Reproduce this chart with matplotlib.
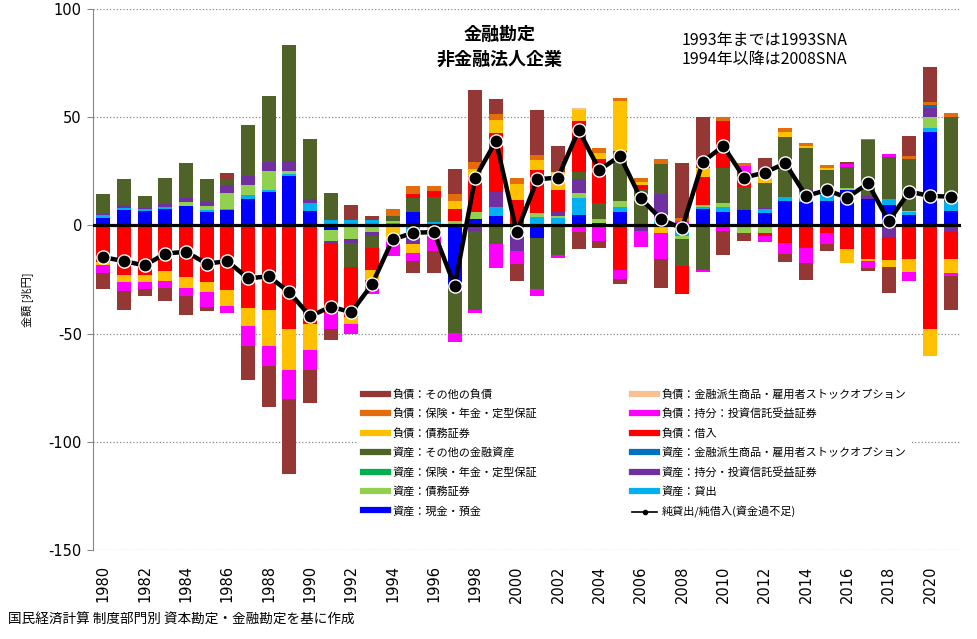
import matplotlib
matplotlib.use("Agg")
import matplotlib.pyplot as plt
from matplotlib.lines import Line2D
import numpy as np

plt.rcParams["font.family"] = ["Noto Sans CJK JP", "DejaVu Sans"]
plt.rcParams["axes.unicode_minus"] = False

years = list(range(1980, 2022))

# 資産 (assets)
a_cash = [3.2, 7.1, 6.5, 7.4, 8.9, 6.2, 7.3, 12.0, 15.4, 22.8,
          6.5, -2.0, 0, 0, 0, 6.0, 0, -28.0, 3.0, 4.2,
          0, -6.0, 0, 4.6, 1.0, 6.1, 0, 0, 0, 7.4,
          6.3, 7.1, 5.6, 11.3, 10.8, 11.3, 16.2, 12.0, 9.3, 4.6,
          43.2, 6.6]
a_loan = [1.4, 0.9, 1.2, 1.3, 0, 0.7, 0.5, 2.0, 0.9, 0.8,
          3.7, 2.5, 2.5, 2.6, 1.0, -5.7, 1.5, 0, 0, 4.5,
          0, 4.0, 3.5, 7.9, 0, 2.5, 0, 2.5, -4.9, 1.2,
          2.4, 0, 1.8, 1.8, 4.6, 3.4, 0, 0, 2.7, 1.4,
          2.0, 4.2]
a_bond = [0, 0, 0, 0, 1.7, 2.0, 7.0, 4.5, 8.7, 1.7,
          0, -5.2, -6.5, -3.1, 1.0, 0, 0, 2.0, 3.3, 0,
          -4.2, 1.9, 1.0, 2.6, 1.8, 2.6, -0.8, 0, -1.6, 0.8,
          1.8, -3.7, -3.4, 0, 0, 0, 0.9, 0, 0, 0.5,
          4.7, 0]
a_equity = [0.8, 1.4, 0.4, 1.0, 1.9, 1.9, 3.9, 4.3, 4.3, 4.3,
            1.8, -1.1, -1.8, -1.9, 0, -3.1, 0, 0, -2.6, 6.9,
            -7.7, 0, 1.8, 6.2, 0, 0, -1.7, 12.2, 0, 0,
            0, 0, 0.8, 0, 1.3, 0, 0, 1.6, -5.2, 0,
            4.3, -3.1]
a_ins = [0] * 42
a_deriv = [0, 0, 0, 0, 0, 0, 0, 0, 0, 0,
           0, 0, 0, 0, 0, 0.6, 0, 0, 0, 0,
           0, 0, 0, 0, 0, 0.3, 0, 0, 0, 0,
           0, 0, 0, 0, 0, 0, 0, 0, 0, 0,
           1.4, 0]
a_other = [9.0, 11.9, 5.3, 12.1, 16.2, 10.5, 2.1, 23.5, 30.4, 53.7,
           27.8, 12.3, -10.8, -5.3, 2.3, 6.2, 11.6, -21.7, -36.3, -8.8,
           0, -23.6, -13.9, 3.5, 7.4, 22.7, 16.7, 13.8, -12.3, -20.4,
           16.2, 10.8, 11.2, 27.8, 18.9, 10.8, 9.9, 25.8, 19.8, 24.1,
           0, 39.5]

# 負債 (liabilities, sign reversed)
l_borrow = [-17.0, -22.7, -22.7, -21.1, -23.9, -26.2, -29.9, -38.4, -39.2, -47.7,
            -45.4, -32.1, -23.2, -10.1, 0, 1.6, 2.8, 5.4, 16.5, 27.3,
            11.7, 19.6, 10.0, 23.5, 20.4, -20.4, 1.8, 0, -12.7, 13.0,
            21.6, 6.5, -1.5, -8.3, -10.3, -3.4, -11.1, -15.4, -10.8, -15.7,
            -47.8, -12.6]
l_bond = [-1.5, -3.5, -3.5, -4.4, -4.9, -4.6, -7.4, -8.2, -16.4, -19.0,
          -12.0, 0, -3.4, -4.6, -6.5, -3.9, -5.0, 3.9, 3.4, 5.9,
          7.3, 4.6, 8.5, 5.1, 2.7, 23.2, 1.5, -3.4, 0, 4.3,
          0, 0, 3.4, 2.3, 1.1, 0.9, -6.5, -1.1, -3.3, -5.9,
          -12.4, -6.5]
l_equity = [-3.4, -4.2, -3.4, -3.3, -3.6, -7.0, -3.4, -9.0, -9.5, -13.4,
            -9.3, -7.7, -4.6, -6.5, -7.7, -3.8, -6.9, -4.3, -1.5, -10.8,
            -6.1, -2.8, -1.2, -3.0, -7.2, -4.3, -7.5, -12.3, 2.0, -1.1,
            -2.6, 3.1, -2.8, -4.7, -7.3, -5.4, 1.6, -3.1, 1.1, -4.2,
            0, -1.3]
l_ins = [0, 0, 0, 0, 0, 0, 0, 0, 0, 0,
         0, 0, 0, 0, 3.1, 3.8, 2.3, 3.1, 3.3, 2.9,
         3.1, 2.3, 0, 0, 2.3, 1.7, 1.8, 2.4, 1.6, 0,
         2.0, 1.5, 0, 1.7, 1.3, 1.5, 0, 0.7, 0, 1.5,
         1.2, 1.6]
l_deriv = [0, 0, 0, 0, 0, 0, 0, 0, 0, 0,
           0, 0, 0, 0, 0, 0, 0, 0, 0, 0,
           0, 0, 0, 0.9, 0, 0, 0, 0, 0, 0,
           0, 0, 0, 0, 0, 0, 0, 0, 0, 0,
           0, 0]
l_other = [-7.7, -8.5, -2.8, -6.2, -8.8, -1.9, 3.2, -15.7, -19.0, -34.7,
           -15.4, -5.0, 6.8, 1.6, 0, -5.4, -10.0, 11.5, 33.1, 6.6,
           -7.8, 21.0, 11.9, -8.1, -3.1, -2.6, 0, -13.1, 25.4, 23.6,
           -11.1, -3.5, 8.5, -4.0, -7.4, -3.1, 0.9, -1.5, -11.9, 9.3,
           16.2, -15.7]

net_lending = [-14.7, -16.5, -18.5, -13.0, -12.2, -17.7, -16.5, -24.5, -23.5, -30.9,
               -42.0, -37.6, -40.1, -27.3, -6.5, -3.4, -3.1, -28.0, 22.1, 39.0,
               -3.1, 21.3, 22.1, 44.1, 25.6, 32.1, 12.5, 2.8, -1.4, 29.3,
               36.7, 22.1, 24.4, 28.7, 13.6, 16.3, 12.8, 19.4, 2.0, 15.6,
               13.6, 13.3]

# stacking order (bottom to top)
stack = [
    ("資産：現金・預金", a_cash, "#0000FF"),
    ("資産：貸出", a_loan, "#00B0F0"),
    ("資産：債務証券", a_bond, "#92D050"),
    ("資産：持分・投資信託受益証券", a_equity, "#7030A0"),
    ("資産：保険・年金・定型保証", a_ins, "#00B050"),
    ("資産：金融派生商品・雇用者ストックオプション", a_deriv, "#0070C0"),
    ("資産：その他の金融資産", a_other, "#4F6228"),
    ("負債：借入", l_borrow, "#FF0000"),
    ("負債：債務証券", l_bond, "#FFC000"),
    ("負債：持分：投資信託受益証券", l_equity, "#FF00FF"),
    ("負債：保険・年金・定型保証", l_ins, "#E46C0A"),
    ("負債：金融派生商品・雇用者ストックオプション", l_deriv, "#FAC090"),
    ("負債：その他の負債", l_other, "#953735"),
]
colors = {name: c for name, _, c in stack}

fig = plt.figure(figsize=(9.77, 6.39), dpi=100)
ax = fig.add_axes([93 / 977, 89 / 639, 868 / 977, 541 / 639])

pos = np.zeros(len(years))
neg = np.zeros(len(years))
for name, vals, color in stack:
    v = np.array(vals, dtype=float)
    bottom = np.where(v >= 0, pos, neg)
    ax.bar(years, v, 0.68, bottom=bottom, color=color, linewidth=0, zorder=2)
    pos += np.clip(v, 0, None)
    neg += np.clip(v, None, 0)

ax.axhline(0, color="black", lw=2.3, zorder=3)
ax.plot(years, net_lending, color="black", lw=3.2, marker="o", ms=9.5,
        mfc="black", mec="white", mew=1.0, zorder=4)

ax.set_xlim(1979.5, 2021.5)
ax.set_ylim(-150, 100)
ax.set_yticks([-150, -100, -50, 0, 50, 100])
ax.set_xticks(years[::2])
ax.set_xticklabels([str(y) for y in years[::2]], rotation=90, fontsize=10.5,
                   family=["DejaVu Sans"])
ax.tick_params(axis="x", length=0, pad=11)
ax.tick_params(axis="y", labelsize=10.5, length=4, color="#888888", pad=4)
for lab in ax.get_yticklabels():
    lab.set_family(["DejaVu Sans"])
ax.yaxis.grid(True, linestyle=":", color="#888888", lw=0.9)
ax.set_axisbelow(True)
for s in ("top", "right", "bottom"):
    ax.spines[s].set_visible(False)
ax.spines["left"].set_color("#888888")

fig.text(27 / 977, 1 - 300 / 639, "金額 [兆円]", rotation=90, fontsize=8,
         ha="center", va="center")
fig.text(500 / 977, 1 - 47 / 639, "金融勘定\n非金融法人企業", fontsize=13,
         fontweight="bold", ha="center", va="center", linespacing=1.35)
fig.text(682 / 977, 1 - 50 / 639, "1993年までは1993SNA\n1994年以降は2008SNA",
         fontsize=11.5, ha="left", va="center", linespacing=1.15)
fig.text(8 / 977, 1 - 620 / 639, "国民経済計算 制度部門別 資本勘定・金融勘定を基に作成",
         fontsize=9.8, ha="left", va="center")

# legend, Excel-like order
col1 = ["負債：その他の負債", "負債：保険・年金・定型保証", "負債：債務証券",
        "資産：その他の金融資産", "資産：保険・年金・定型保証", "資産：債務証券",
        "資産：現金・預金"]
col2 = ["負債：金融派生商品・雇用者ストックオプション", "負債：持分：投資信託受益証券",
        "負債：借入", "資産：金融派生商品・雇用者ストックオプション",
        "資産：持分・投資信託受益証券", "資産：貸出"]
handles = [Line2D([], [], color=colors[n], lw=4.5) for n in col1 + col2]
labels = col1 + col2
handles.append(Line2D([], [], color="black", lw=1.2, marker="o", ms=3))
labels.append("純貸出/純借入(資金過不足)")
leg = ax.legend(handles, labels, ncol=2, loc="upper left",
                bbox_to_anchor=(0.298, 0.318), fontsize=8, frameon=True,
                facecolor="white", edgecolor="none", framealpha=1,
                handlelength=2.3, handletextpad=0.4, labelspacing=0.78,
                columnspacing=8.5, borderpad=0.5)
leg.set_zorder(5)

fig.savefig("out.png", dpi=100)
